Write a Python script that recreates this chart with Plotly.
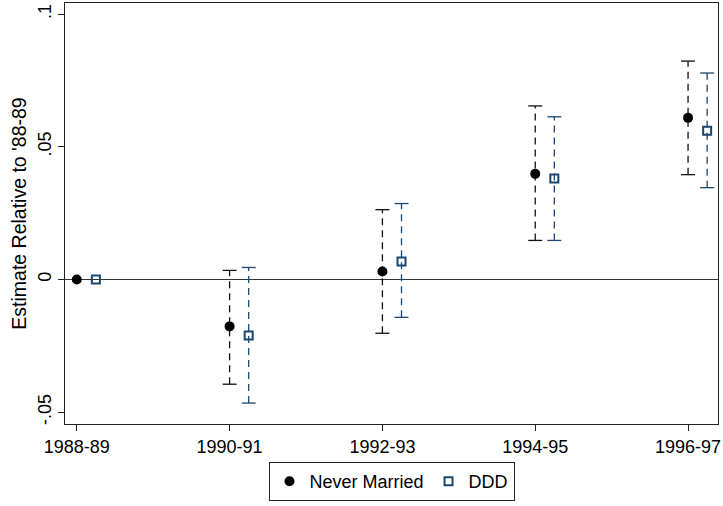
import plotly.graph_objects as go

periods = ["1988-89", "1990-91", "1992-93", "1994-95", "1996-97"]
never_est = [0.0, -0.0177, 0.0030, 0.0398, 0.0609]
never_lo = [0.0, -0.0395, -0.0203, 0.0147, 0.0395]
never_hi = [0.0, 0.0034, 0.0263, 0.0654, 0.0823]
ddd_est = [0.0, -0.0211, 0.0068, 0.0380, 0.0560]
ddd_lo = [0.0, -0.0466, -0.0143, 0.0147, 0.0346]
ddd_hi = [0.0, 0.0045, 0.0286, 0.0613, 0.0778]

x_base = list(range(len(periods)))
offset = 0.125
x_never = [x for x in x_base]
x_ddd = [x + offset for x in x_base]

BLACK = "#111111"
NAVY = "#1a476f"

fig = go.Figure()


def add_ci(xs, lo, hi, color, dash):
    lx, ly = [], []
    cx, cy = [], []
    for x, l, h in zip(xs, lo, hi):
        if l == h:
            continue
        lx += [x, x, None]
        ly += [l, h, None]
        cx += [x, x]
        cy += [l, h]
    fig.add_trace(go.Scatter(x=lx, y=ly, mode="lines", showlegend=False,
                             line=dict(color=color, width=1.3, dash=dash),
                             hoverinfo="skip"))
    fig.add_trace(go.Scatter(x=cx, y=cy, mode="markers", showlegend=False,
                             marker=dict(symbol="line-ew", size=10,
                                         line=dict(color=color, width=1.3)),
                             hoverinfo="skip"))


add_ci(x_never, never_lo, never_hi, BLACK, "7px,5px")
add_ci(x_ddd, ddd_lo, ddd_hi, NAVY, "7px,5px")

fig.add_trace(go.Scatter(x=x_never, y=never_est, mode="markers", name="Never Married",
                         marker=dict(symbol="circle", size=10, color="black")))
fig.add_trace(go.Scatter(x=x_ddd, y=ddd_est, mode="markers", name="DDD",
                         marker=dict(symbol="square-open", size=8, color=NAVY,
                                     line=dict(width=2, color=NAVY))))

fig.update_layout(
    width=723, height=506,
    margin=dict(l=65, r=2, t=3, b=82),
    paper_bgcolor="white", plot_bgcolor="white",
    font=dict(family="Liberation Sans, Arial, sans-serif", size=18, color="black"),
    showlegend=True,
    legend=dict(orientation="h", x=0.5, xanchor="center", y=-0.183, yanchor="bottom",
                bordercolor="#222222", borderwidth=1, bgcolor="white",
                font=dict(size=18), itemwidth=30, tracegroupgap=0),
)
fig.update_xaxes(range=[-0.077, 4.196], tickvals=x_base, ticktext=periods,
                 showgrid=False, zeroline=False, showline=True, linecolor="#222222",
                 linewidth=1.3, mirror=True, ticks="outside", ticklen=6,
                 tickcolor="#222222", tickfont=dict(size=18), ticklabeloverflow="allow")
fig.update_yaxes(range=[-0.0545, 0.1042], tickvals=[-0.05, 0, 0.05, 0.1],
                 ticktext=["-.05", "0", ".05", ".1"], tickangle=-90,
                 showgrid=False, zeroline=True, zerolinecolor="#333333", zerolinewidth=1.3,
                 showline=True, linecolor="#222222", linewidth=1.3, mirror=True,
                 ticks="outside", ticklen=6, tickcolor="#222222", tickfont=dict(size=18),
                 title=dict(text="Estimate Relative to '88-89", font=dict(size=19.5), standoff=2))

fig.write_html("out.html", config={"displayModeBar": False},
               post_script="document.body.style.margin='0px';")
